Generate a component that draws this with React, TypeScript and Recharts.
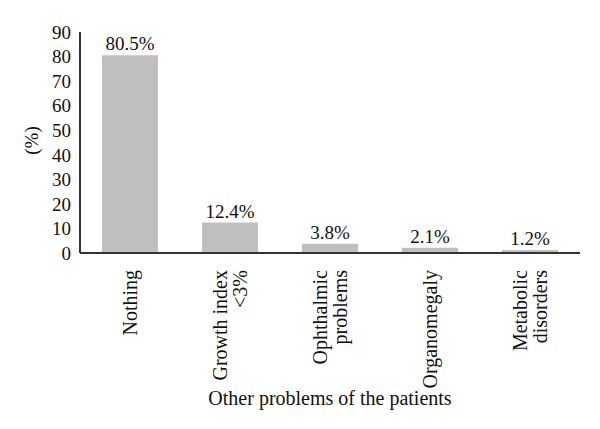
import React from 'react';
import { BarChart, Bar, XAxis, YAxis, LabelList, Label } from 'recharts';

const categories: string[][] = [
  ['Nothing'],
  ['Growth index', '<3%'],
  ['Ophthalmic', 'problems'],
  ['Organomegaly'],
  ['Metabolic', 'disorders'],
];
const values: number[] = [80.5, 12.4, 3.8, 2.1, 1.2];
const yTicks: number[] = [0, 10, 20, 30, 40, 50, 60, 70, 80, 90];

const data = categories.map((c, i) => ({ name: c.join('\n'), value: values[i] }));

const FONT = 'Liberation Serif';
const fontStyle = { fontFamily: FONT };

const CategoryTick = (props: any) => {
  const { x, y, payload } = props;
  const lines: string[] = String(payload.value).split('\n');
  const n = lines.length;
  return (
    <g transform={`translate(${x},${y})`}>
      <text
        transform="rotate(-90)"
        textAnchor="end"
        fontFamily={FONT}
        style={fontStyle}
        fontSize={20}
        fill="#111"
      >
        {lines.map((l, i) => (
          <tspan key={i} x={-9} y={(i - (n - 1) / 2) * 20} dominantBaseline="central">
            {l}
          </tspan>
        ))}
      </text>
    </g>
  );
};

export default function App() {
  return (
    <div style={{ position: 'absolute', left: 0, top: 0, background: '#fff', fontFamily: FONT }}>
      <BarChart
        width={600}
        height={429}
        data={data}
        margin={{ top: 32, right: 20, bottom: 0, left: 0 }}
        barCategoryGap={22}
        style={fontStyle}
      >
        <XAxis
          dataKey="name"
          interval={0}
          tickLine={false}
          axisLine={{ stroke: '#333', strokeWidth: 2 }}
          height={176}
          tick={<CategoryTick />}
        >
          <Label
            content={(p: any) => {
              const vb = p.viewBox;
              return (
                <text
                  x={vb.x + vb.width / 2}
                  y={vb.y + vb.height - 24}
                  textAnchor="middle"
                  fontFamily={FONT}
                  style={fontStyle}
                  fontSize={20}
                  fill="#111"
                >
                  Other problems of the patients
                </text>
              );
            }}
          />
        </XAxis>
        <YAxis
          domain={[0, 90]}
          ticks={yTicks}
          interval={0}
          width={80}
          tickLine={false}
          tickSize={0}
          tickMargin={9}
          axisLine={{ stroke: '#333', strokeWidth: 2 }}
          tick={{ fontFamily: FONT, style: fontStyle, fontSize: 19, fill: '#111' }}
        >
          <Label
            content={(p: any) => {
              const vb = p.viewBox;
              const cx = 31;
              const cy = vb.y + vb.height / 2 - 2;
              return (
                <text
                  x={cx}
                  y={cy}
                  transform={`rotate(-90, ${cx}, ${cy})`}
                  textAnchor="middle"
                  dominantBaseline="central"
                  fontFamily={FONT}
                  style={fontStyle}
                  fontSize={19}
                  fill="#111"
                >
                  (%)
                </text>
              );
            }}
          />
        </YAxis>
        <Bar dataKey="value" fill="#bfbfbf" isAnimationActive={false}>
          <LabelList
            dataKey="value"
            position="top"
            offset={5}
            formatter={(v: any) => `${Number(v).toFixed(1)}%`}
            style={{ fontFamily: FONT, fontSize: 19, fill: '#111' }}
          />
        </Bar>
      </BarChart>
    </div>
  );
}
